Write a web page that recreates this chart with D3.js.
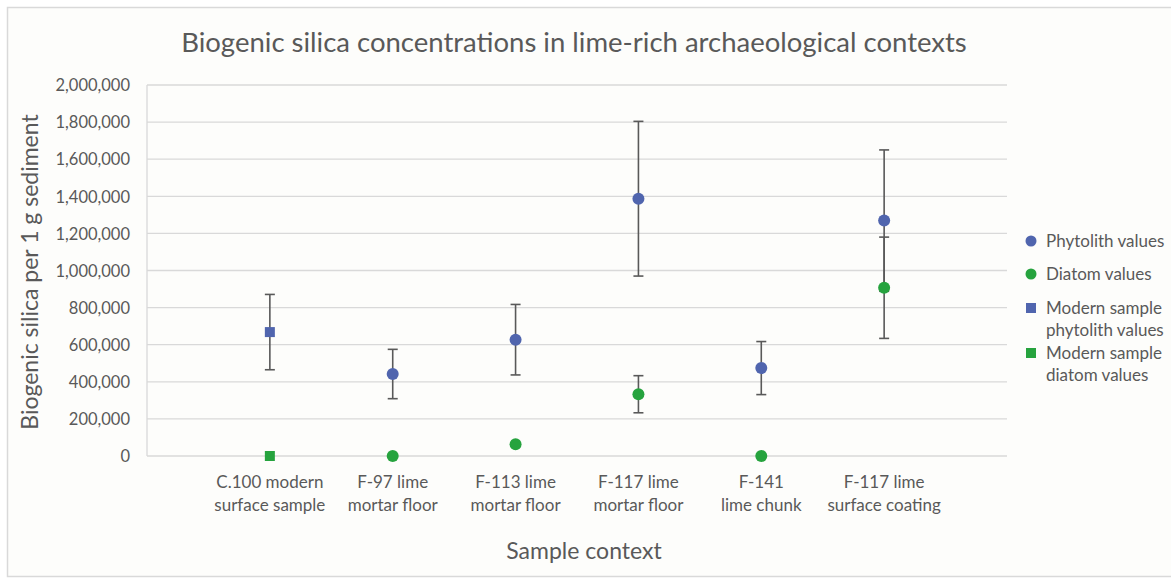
<!DOCTYPE html>
<html>
<head>
<meta charset="utf-8">
<script src="https://cdn.jsdelivr.net/npm/d3@7"></script>
<style>
  html, body { margin: 0; padding: 0; background: #ffffff; }
  svg { display: block; font-family: Lato, "Open Sans", sans-serif; }
  .grid line { stroke: #d9d9d9; stroke-width: 1.3; }
  .tick-label { fill: #595959; font-size: 17px; }
  .ytick { fill: #595959; font-size: 16.5px; }
  .err { stroke: #595959; stroke-width: 1.6; fill: none; }
</style>
</head>
<body>
<svg id="chart" width="1171" height="581"></svg>
<script>
// Chart data (biogenic silica per 1 g sediment)
const categories = [
  ['C.100 modern', 'surface sample'],
  ['F-97 lime', 'mortar floor'],
  ['F-113 lime', 'mortar floor'],
  ['F-117 lime', 'mortar floor'],
  ['F-141', 'lime chunk'],
  ['F-117 lime', 'surface coating']
];
const yTicks = [0, 200000, 400000, 600000, 800000, 1000000, 1200000, 1400000, 1600000, 1800000, 2000000];

// x = position of category (1-based), err = +/- error bar (null = none)
const phytolith = [
  { x: 2, v: 442000, err: 133000 },
  { x: 3, v: 627000, err: 190000 },
  { x: 4, v: 1387000, err: 417000 },
  { x: 5, v: 474000, err: 143000 },
  { x: 6, v: 1269000, err: 381000 }
];
const diatom = [
  { x: 2, v: 0, err: null },
  { x: 3, v: 63000, err: null },
  { x: 4, v: 333000, err: 100000 },
  { x: 5, v: 0, err: null },
  { x: 6, v: 907000, err: 273000 }
];
const modernPhytolith = [{ x: 1, v: 668000, err: 203000 }];
const modernDiatom = [{ x: 1, v: 0, err: null }];

const legendItems = [
  { label: ['Phytolith values'], color: '#5065ae', shape: 'circle' },
  { label: ['Diatom values'], color: '#26a33e', shape: 'circle' },
  { label: ['Modern sample', 'phytolith values'], color: '#5065ae', shape: 'square' },
  { label: ['Modern sample', 'diatom values'], color: '#26a33e', shape: 'square' }
];

const BLUE = '#5065ae', GREEN = '#26a33e';

const svg = d3.select('#chart');

// Chart area background and frame
svg.append('rect')
  .attr('x', 7.5).attr('y', 7.5).attr('width', 1180).attr('height', 569)
  .attr('fill', '#fdfdfb').attr('stroke', '#d9d9d9').attr('stroke-width', 1.5);

const plot = { left: 147, right: 1007, top: 85, bottom: 456 };

const x = d3.scaleLinear().domain([0, 7]).range([plot.left, plot.right]);
const y = d3.scaleLinear().domain([0, 2000000]).range([plot.bottom, plot.top]);

// Title
svg.append('text')
  .attr('x', 574).attr('y', 52)
  .attr('text-anchor', 'middle')
  .attr('fill', '#595959')
  .style('font-size', '27.5px')
  .text('Biogenic silica concentrations in lime-rich archaeological contexts');

// Gridlines
const grid = svg.append('g').attr('class', 'grid');
grid.selectAll('line.h').data(yTicks).enter().append('line')
  .attr('class', 'h')
  .attr('x1', plot.left).attr('x2', plot.right)
  .attr('y1', d => y(d)).attr('y2', d => y(d));
// left vertical axis line
grid.append('line')
  .attr('x1', plot.left).attr('x2', plot.left)
  .attr('y1', plot.top).attr('y2', plot.bottom);

// Y axis labels
const yAxis = d3.axisLeft(y).tickValues(yTicks).tickFormat(d3.format(',')).tickSize(0).tickPadding(17);
const gy = svg.append('g').attr('transform', `translate(${plot.left},0)`).call(yAxis);
gy.select('.domain').remove();
gy.attr('font-family', null).attr('font-size', null);
gy.selectAll('text').attr('class', 'ytick').attr('fill', null).attr('dy', '0.35em');

// X axis category labels
const xl = svg.append('g');
categories.forEach((lines, i) => {
  const t = xl.append('text')
    .attr('class', 'tick-label')
    .attr('text-anchor', 'middle')
    .attr('x', x(i + 1)).attr('y', 488);
  lines.forEach((ln, j) => {
    t.append('tspan').attr('x', x(i + 1)).attr('dy', j === 0 ? 0 : 22.5).text(ln);
  });
});

// Axis titles
svg.append('text')
  .attr('transform', `translate(38,272) rotate(-90)`)
  .attr('text-anchor', 'middle')
  .attr('fill', '#595959')
  .style('font-size', '23px')
  .text('Biogenic silica per 1 g sediment');

svg.append('text')
  .attr('x', 584).attr('y', 559)
  .attr('text-anchor', 'middle')
  .attr('fill', '#595959')
  .style('font-size', '23px')
  .text('Sample context');

// Error bars
function drawErrors(series) {
  const g = svg.append('g');
  const withErr = series.filter(d => d.err != null);
  g.selectAll('line.v').data(withErr).enter().append('line')
    .attr('class', 'err')
    .attr('x1', d => x(d.x)).attr('x2', d => x(d.x))
    .attr('y1', d => y(d.v + d.err)).attr('y2', d => y(d.v - d.err));
  ['top', 'bot'].forEach(k => {
    g.selectAll('line.' + k).data(withErr).enter().append('line')
      .attr('class', 'err')
      .attr('x1', d => x(d.x) - 5).attr('x2', d => x(d.x) + 5)
      .attr('y1', d => y(k === 'top' ? d.v + d.err : d.v - d.err))
      .attr('y2', d => y(k === 'top' ? d.v + d.err : d.v - d.err));
  });
}

function drawCircles(series, color) {
  svg.append('g').selectAll('circle').data(series).enter().append('circle')
    .attr('cx', d => x(d.x)).attr('cy', d => y(d.v)).attr('r', 6)
    .attr('fill', color);
}

function drawSquares(series, color) {
  svg.append('g').selectAll('rect').data(series).enter().append('rect')
    .attr('x', d => x(d.x) - 5).attr('y', d => y(d.v) - 5)
    .attr('width', 10).attr('height', 10)
    .attr('fill', color);
}

drawErrors(modernPhytolith);
drawErrors(phytolith);
drawErrors(diatom);
drawSquares(modernPhytolith, BLUE);
drawSquares(modernDiatom, GREEN);
drawCircles(phytolith, BLUE);
drawCircles(diatom, GREEN);

// Legend
const legendY = [241, 274, 308, 353];
const lg = svg.append('g');
legendItems.forEach((item, i) => {
  const cy = legendY[i];
  if (item.shape === 'circle') {
    lg.append('circle').attr('cx', 1031).attr('cy', cy).attr('r', 5.5).attr('fill', item.color);
  } else {
    lg.append('rect').attr('x', 1026).attr('y', cy - 5).attr('width', 10).attr('height', 10).attr('fill', item.color);
  }
  const t = lg.append('text').attr('class', 'tick-label').attr('x', 1046).attr('y', cy);
  item.label.forEach((ln, j) => {
    t.append('tspan').attr('x', 1046).attr('dy', j === 0 ? '0.35em' : 22).text(ln);
  });
});
</script>
</body>
</html>
